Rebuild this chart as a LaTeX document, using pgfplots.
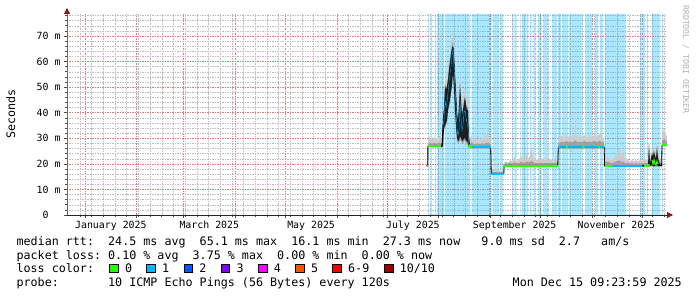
\documentclass[border=0pt]{standalone}
\usepackage{fontspec}
\setmonofont{DejaVu Sans Mono}
\usepackage{pgfplots}
\pgfplotsset{compat=1.18}
\usepackage{pgfplotstable}
\usetikzlibrary{arrows.meta}

\definecolor{smokelight}{RGB}{204,204,204}
\definecolor{smokemid}{RGB}{160,160,160}
\definecolor{smokedark}{RGB}{30,30,30}
\definecolor{lc0}{HTML}{26FF00}
\definecolor{lc1}{HTML}{00B8FF}
\definecolor{lc2}{HTML}{0059FF}
\definecolor{lc3}{HTML}{7E00FF}
\definecolor{lc4}{HTML}{FF00FF}
\definecolor{lc5}{HTML}{FF5500}
\definecolor{lc6}{HTML}{FF0000}
\definecolor{lc10}{HTML}{A00000}
\definecolor{majgrid}{RGB}{226,122,122}
\definecolor{mingrid}{RGB}{190,190,190}
\definecolor{arrowcol}{RGB}{140,20,20}

\newcommand\legfont{\ttfamily\fontsize{11.7}{13}\selectfont}
\newcommand\axfont{\ttfamily\fontsize{9.9}{11}\selectfont}
\newcommand\wmfont{\ttfamily\fontsize{8.2}{9}\selectfont}

% x = days since 1 Jan 2025; values in ms
\pgfplotstableread{
d lo dlo med dk md lt
204.70 18.9 19.2 19.3 19.6 20.0 20.5
205.45 18.9 19.2 19.3 19.6 20.0 20.5
205.50 26.4 26.7 26.8 27.1 28.0 29.5
206.76 26.4 26.7 26.8 27.1 28.2 30.5
207.96 26.4 26.7 26.8 27.2 28.0 29.5
209.16 26.4 26.7 26.8 27.1 28.3 30.5
210.36 26.4 26.7 26.8 27.1 28.0 29.8
211.56 26.4 26.7 26.8 27.2 28.2 30.2
212.75 26.4 26.7 26.8 27.1 28.5 31.0
213.35 26.4 26.7 26.8 27.1 28.0 29.5
213.95 26.3 26.5 27.0 28.0 29.0 31.0
214.55 26.5 27.0 35.0 38.2 39.0 40.0
215.15 33.0 34.0 37.0 41.6 42.6 44.0
215.75 34.0 35.0 45.0 50.6 51.6 53.0
216.35 35.0 36.0 42.0 49.0 50.0 52.0
216.95 36.0 37.0 44.0 50.4 51.4 54.0
217.55 40.0 41.0 48.0 53.0 54.0 56.0
218.15 42.0 43.0 52.0 57.0 58.0 60.0
218.74 44.0 45.0 55.0 60.0 61.0 63.0
219.34 47.0 48.0 58.0 63.0 64.0 66.0
219.94 50.0 51.0 62.0 65.5 67.0 70.0
220.54 55.0 56.0 64.5 66.0 68.3 72.5
221.14 48.0 49.0 58.0 63.0 64.4 68.0
221.74 40.0 41.0 50.0 55.0 56.4 60.0
222.34 34.0 35.0 43.0 48.0 49.4 53.0
222.94 29.0 30.0 34.0 40.0 41.8 46.0
223.54 28.0 29.0 31.0 37.0 38.4 42.0
224.13 28.0 29.0 33.0 43.0 44.4 48.0
224.73 30.0 31.0 45.0 51.0 52.0 55.0
225.33 29.0 30.0 38.0 45.0 46.4 50.0
225.93 28.0 29.0 33.0 39.0 40.4 44.0
226.53 28.0 29.0 35.0 41.0 42.4 46.0
227.13 29.0 30.0 40.0 44.0 45.0 48.0
227.73 29.0 30.0 41.0 46.0 47.0 50.0
228.33 28.0 29.0 38.0 43.0 44.0 47.0
228.93 28.0 29.0 36.0 41.0 42.4 46.0
229.53 27.0 28.0 34.0 41.0 42.2 44.0
230.13 26.3 26.5 27.5 30.0 32.0 35.0
230.73 26.1 26.4 26.5 26.9 28.2 30.0
231.92 26.1 26.4 26.5 26.9 28.5 31.3
233.12 26.1 26.4 26.5 26.9 27.8 29.0
234.33 26.1 26.4 26.5 26.9 28.0 30.0
235.52 26.1 26.4 26.5 26.9 28.0 29.5
236.72 26.1 26.4 26.5 26.9 27.8 29.0
237.92 26.1 26.4 26.5 26.9 28.2 30.0
238.52 26.1 26.4 26.5 26.9 28.0 31.0
239.12 26.1 26.4 26.5 26.9 27.8 29.5
240.32 26.1 26.4 26.5 26.9 28.5 32.0
240.92 26.1 26.4 26.5 26.9 28.0 29.5
241.52 26.1 26.4 26.5 26.9 29.0 34.5
242.12 26.1 26.4 26.5 26.9 28.0 30.0
243.19 26.1 26.4 26.5 26.9 28.0 29.5
243.43 15.9 16.1 16.2 16.4 16.9 17.4
246.31 15.9 16.1 16.2 16.4 17.0 17.8
248.71 15.9 16.1 16.2 16.4 16.8 17.3
251.00 15.9 16.1 16.2 16.4 16.8 17.3
251.20 18.9 19.2 19.3 19.6 20.0 20.5
252.30 18.9 19.2 19.3 19.6 20.3 21.0
253.50 18.9 19.2 19.3 19.6 20.2 20.5
254.70 18.9 19.2 19.3 19.6 20.5 21.5
255.90 18.9 19.2 19.3 19.6 20.3 21.0
257.10 18.9 19.2 19.3 19.6 20.6 22.0
257.70 18.9 19.2 19.3 19.6 20.8 22.8
258.30 18.9 19.2 19.3 19.6 20.3 21.0
259.50 18.9 19.2 19.3 19.6 20.4 21.5
260.70 18.9 19.2 19.3 19.6 20.6 22.0
261.29 18.9 19.2 19.3 19.6 21.0 24.0
261.89 18.9 19.2 19.3 19.6 20.5 22.0
262.49 18.9 19.2 19.3 19.6 20.8 23.5
263.09 18.9 19.2 19.3 19.6 20.4 21.5
264.29 18.9 19.2 19.3 19.6 20.8 23.0
264.89 18.9 19.2 19.3 19.6 21.2 25.4
265.49 18.9 19.2 19.3 19.6 20.6 22.0
266.69 18.9 19.2 19.3 19.6 20.8 23.0
267.89 18.9 19.2 19.3 19.6 21.5 26.5
268.49 18.9 19.2 19.3 19.6 20.7 23.0
269.09 18.9 19.2 19.3 19.6 20.5 22.0
270.28 18.9 19.2 19.3 19.6 20.4 21.5
271.48 18.9 19.2 19.3 19.6 20.5 22.0
272.68 18.9 19.2 19.3 19.6 20.4 21.5
273.88 18.9 19.2 19.3 19.6 20.5 22.0
275.08 18.9 19.2 19.3 19.6 20.3 21.5
276.28 18.9 19.2 19.3 19.6 20.6 22.5
277.48 18.9 19.2 19.3 19.6 20.4 21.5
278.67 18.9 19.2 19.3 19.6 20.5 22.0
279.87 18.9 19.2 19.3 19.6 20.4 21.5
281.07 18.9 19.2 19.3 19.6 20.5 22.0
282.27 18.9 19.2 19.3 19.6 20.3 21.5
283.35 18.9 19.2 19.3 19.6 20.3 21.5
283.60 26.0 26.3 26.4 26.8 28.0 28.5
284.67 26.0 26.3 26.4 26.8 28.6 30.5
285.87 26.0 26.3 26.4 26.8 28.8 31.0
287.06 26.0 26.3 26.4 26.8 28.5 30.0
288.26 26.0 26.3 26.4 26.8 29.0 31.5
289.46 26.0 26.3 26.4 26.8 28.7 30.5
290.66 26.0 26.3 26.4 26.8 28.8 31.0
291.86 26.0 26.3 26.4 26.8 28.5 30.0
293.06 26.0 26.3 26.4 26.8 29.0 31.5
293.66 26.0 26.3 26.4 26.8 29.2 36.0
294.08 26.0 26.3 26.4 26.8 29.5 39.0
294.56 26.0 26.3 26.4 26.8 28.8 31.0
295.45 26.0 26.3 26.4 26.8 28.6 30.5
296.65 26.0 26.3 26.4 26.8 28.8 31.0
297.85 26.0 26.3 26.4 26.8 28.5 30.0
299.05 26.0 26.3 26.4 26.8 29.0 31.5
300.25 26.0 26.3 26.4 26.8 28.7 30.5
301.45 26.0 26.3 26.4 26.8 28.5 30.0
302.65 26.0 26.3 26.4 26.8 28.8 31.0
303.84 26.0 26.3 26.4 26.8 28.6 30.5
305.04 26.0 26.3 26.4 26.8 29.0 31.5
305.64 26.0 26.3 26.4 26.8 29.2 32.5
306.24 26.0 26.3 26.4 26.8 28.7 30.5
307.44 26.0 26.3 26.4 26.8 28.8 31.0
308.64 26.0 26.3 26.4 26.8 29.0 32.0
309.84 26.0 26.3 26.4 26.8 28.6 30.5
311.16 26.0 26.3 26.4 26.8 28.5 30.0
311.40 18.8 19.1 19.2 19.5 20.5 22.0
312.24 18.8 19.1 19.2 19.5 21.0 23.0
313.43 18.8 19.1 19.2 19.5 20.8 22.5
314.63 18.8 19.1 19.2 19.5 20.6 22.0
315.83 18.8 19.1 19.2 19.5 20.4 21.5
317.03 18.8 19.1 19.2 19.5 20.7 22.5
318.23 18.8 19.1 19.2 19.5 21.0 23.5
319.43 18.8 19.1 19.2 19.5 21.2 24.0
320.33 18.8 19.1 19.2 19.5 21.5 26.7
321.22 18.8 19.1 19.2 19.5 20.8 23.0
322.42 18.8 19.1 19.2 19.5 21.2 25.5
323.02 18.8 19.1 19.2 19.5 20.6 22.5
324.22 18.8 19.1 19.2 19.5 20.5 22.0
325.42 18.8 19.1 19.2 19.5 20.3 21.5
326.62 18.8 19.1 19.2 19.5 20.2 21.0
327.82 18.8 19.1 19.2 19.5 20.3 21.5
329.02 18.8 19.1 19.2 19.5 20.2 21.0
330.21 18.8 19.1 19.2 19.5 20.3 21.5
331.41 18.8 19.1 19.2 19.5 20.2 21.0
332.61 18.8 19.1 19.2 19.5 20.4 21.5
333.81 18.8 19.1 19.2 19.5 20.2 21.0
335.01 18.8 19.1 19.2 19.5 20.5 22.0
336.21 18.8 19.1 19.2 19.5 20.4 21.5
337.41 18.8 19.1 19.2 19.5 20.5 22.0
338.01 18.9 19.2 19.5 27.5 27.8 28.0
338.61 18.9 19.1 19.3 20.0 21.0 22.0
339.20 19.0 19.4 20.5 22.0 23.0 24.0
339.80 19.0 19.5 21.5 24.0 25.0 26.0
340.40 18.9 19.0 20.0 23.0 24.0 25.0
341.00 18.9 19.0 21.5 25.0 25.5 26.5
341.60 19.0 19.2 20.0 23.0 24.0 25.0
342.20 18.9 19.2 19.5 22.0 23.0 24.0
342.80 19.0 19.5 21.0 26.7 27.0 27.5
343.40 18.9 19.2 20.0 22.0 23.0 24.5
344.00 18.9 19.1 19.5 21.0 22.0 23.0
344.60 18.9 19.1 19.4 19.8 20.8 22.0
345.56 18.9 19.1 19.4 19.8 20.8 22.0
345.80 26.8 27.1 27.2 27.6 29.0 30.5
346.40 26.8 27.1 27.2 27.6 29.5 32.0
347.00 26.8 27.1 27.2 27.6 30.0 34.5
347.60 26.8 27.1 27.2 27.6 29.8 33.0
348.20 26.8 27.1 27.2 27.6 29.0 31.0
348.80 26.8 27.1 27.2 27.6 29.0 31.0
}\smoke

\begin{document}
\begin{tikzpicture}[x=1pt,y=1pt]
\path[use as bounding box] (0,0) rectangle (697,297);
\begin{axis}[
  at={(67pt,82pt)}, anchor=south west,
  width=600pt, height=201pt, scale only axis,
  xmin=-10.79, xmax=348.79, ymin=0, ymax=78.6,
  axis lines=left,
  axis line style={line width=0.8pt},
  x axis line style={draw=black!85, -{Triangle[length=6pt,width=6pt,color=arrowcol]}, shorten >=-6pt},
  y axis line style={draw=black!60, -{Triangle[length=6pt,width=6pt,color=arrowcol]}, shorten >=-6pt},
  xtick={0,31,59,90,120,151,181,212,243,273,304,334},
  xticklabels={},
  minor xtick={-3,4,...,347},
  ytick={0,10,...,70},
  yticklabels={0\hphantom{\ m},10 m,20 m,30 m,40 m,50 m,60 m,70 m},
  minor ytick={2,4,...,78},
  grid=both,
  major grid style={color=majgrid, line width=0.6pt, dash pattern=on 1.5pt off 1pt},
  minor grid style={color=mingrid, line width=0.45pt, dash pattern=on 1.5pt off 1pt},
  tick align=outside, major tick length=3pt, minor tick length=2pt,
  tick style={color=black!70, line width=0.6pt, solid},
  tick label style={font=\axfont},
  xticklabel style={yshift=-2.5pt},
  extra x ticks={15.5,74.5,135.5,196.5,257.5,318.5},
  extra x tick labels={January 2025,March 2025,May 2025,July 2025,September 2025,November 2025},
  extra x tick style={grid=none, major tick length=0pt},
]
% loss background (1/10 loss periods), translucent like the original
\addplot[const plot, fill=lc1, fill opacity=0.33, draw=none] coordinates {
(205.7,78.6)(206.3,0.25)(207.4,78.6)(208.0,0.25)(209.8,78.6)(210.4,0.25)(211.1,78.6)(212.0,0.25)
(212.2,78.6)(215.1,0.25)(215.7,78.6)(230.7,0.25)(231.7,78.6)(243.7,0.25)(244.5,78.6)(248.3,0.25)
(249.1,78.6)(250.7,0.25)(256.1,78.6)(256.7,0.25)(257.3,78.6)(258.7,0.25)(260.7,78.6)(261.1,0.25)
(261.7,78.6)(264.3,0.25)(264.7,78.6)(265.7,0.25)(266.7,78.6)(267.7,0.25)(268.7,78.6)(269.7,0.25)
(271.5,78.6)(273.7,0.25)(274.5,78.6)(276.9,0.25)(277.5,78.6)(278.1,0.25)(279.9,78.6)(282.9,0.25)
(283.5,78.6)(285.3,0.25)(285.9,78.6)(289.5,0.25)(290.1,78.6)(297.9,0.25)(299.7,78.6)(303.9,0.25)
(305.6,78.6)(307.4,0.25)(308.6,78.6)(310.4,0.25)(311.6,78.6)(324.2,0.25)(332.6,78.6)(333.8,0.25)
(334.4,78.6)(335.6,0.25)(336.8,78.6)(337.4,0.25)(339.8,78.6)(344.6,0.25)(345.8,78.6)(346.4,0.25)
} \closedcycle;
% smoke: stacked bands lo -> md -> lt, then back down to dlo -> dk
\addplot[draw=none, stack plots=y] table[x=d,y=lo]{\smoke};
\addplot[draw=none, fill=smokemid, stack plots=y] table[x=d,y expr=\thisrow{md}-\thisrow{lo}]{\smoke} \closedcycle;
\addplot[draw=none, fill=smokelight, stack plots=y] table[x=d,y expr=\thisrow{lt}-\thisrow{md}]{\smoke} \closedcycle;
\addplot[draw=none, stack plots=y] table[x=d,y expr=\thisrow{dlo}-\thisrow{lt}]{\smoke};
\addplot[draw=none, fill=smokedark, stack plots=y] table[x=d,y expr=\thisrow{dk}-\thisrow{dlo}]{\smoke} \closedcycle;
% median
\addplot[black, line width=0.8pt] table[x=d,y=med]{\smoke};
\addplot[lc1, line width=0.45pt, restrict x to domain=214.4:230.2] table[x=d,y=med]{\smoke};
\addplot[lc1, line width=2pt, restrict x to domain=231.9:243.2] table[x=d,y=med]{\smoke};
\addplot[lc1, line width=2pt, restrict x to domain=243.4:251.05] table[x=d,y=med]{\smoke};
\addplot[lc1, line width=2pt, restrict x to domain=283.5:311.2] table[x=d,y=med]{\smoke};
\addplot[lc1, line width=2pt, restrict x to domain=315.8:335.0] table[x=d,y=med]{\smoke};
\addplot[lc0, line width=2pt, restrict x to domain=204.6:205.46] table[x=d,y=med]{\smoke};
\addplot[lc0, line width=2pt, restrict x to domain=205.48:213.9] table[x=d,y=med]{\smoke};
\addplot[lc0, line width=2pt, restrict x to domain=230.0:231.95] table[x=d,y=med]{\smoke};
\addplot[lc0, line width=2pt, restrict x to domain=251.1:283.4] table[x=d,y=med]{\smoke};
\addplot[lc0, line width=2pt, restrict x to domain=288.2:289.5] table[x=d,y=med]{\smoke};
\addplot[lc0, line width=2pt, restrict x to domain=297.8:299.1] table[x=d,y=med]{\smoke};
\addplot[lc0, line width=2pt, restrict x to domain=307.4:308.7] table[x=d,y=med]{\smoke};
\addplot[lc0, line width=2pt, restrict x to domain=311.3:315.9] table[x=d,y=med]{\smoke};
\addplot[lc0, line width=2pt, restrict x to domain=335.0:338.7] table[x=d,y=med]{\smoke};
\addplot[lc0, line width=1.2pt, restrict x to domain=339.7:343.5] table[x=d,y=med]{\smoke};
\addplot[lc0, line width=2pt, restrict x to domain=345.7:349] table[x=d,y=med]{\smoke};
\end{axis}
\node[rotate=90, inner sep=0pt, font=\legfont] at (10.8,183) {Seconds};
% legend text
\begin{scope}[every node/.style={inner sep=0pt, font=\legfont}]
\node[anchor=base west] at (16.4,51) {median~rtt:~~24.5~ms~avg~~65.1~ms~max~~16.1~ms~min~~27.3~ms~now~~~9.0~ms~sd~~2.7~~~am/s};
\node[anchor=base west] at (16.4,37.5) {packet~loss:~0.10~\%~avg~~3.75~\%~max~~0.00~\%~min~~0.00~\%~now};
\node[anchor=base west] at (16.4,24) {loss~color:};
\node[anchor=base west] at (16.4,10.5) {probe:~~~~~~~10~ICMP~Echo~Pings~(56~Bytes)~every~120s};
\node[anchor=base east] at (682,10.5) {Mon~Dec~15~09:23:59~2025};
\foreach \c/\t/\x in {lc0/0/109.5, lc1/1/146.7, lc2/2/183.9, lc3/3/221.1, lc4/4/258.3, lc5/5/295.5, lc6/6-9/332.7, lc10/10\slash 10/384.3}{
  \draw[fill=\c, draw=black, line width=0.6pt] (\x,24.3) rectangle ++(8.5,8.5);
  \node[anchor=base west] at (\x+15.3,24) {\t};
}
\end{scope}
\node[rotate=-90, anchor=base west, inner sep=0pt, font=\wmfont, text=black!30] at (683,292) {RRDTOOL / TOBI OETIKER};
\end{tikzpicture}
\end{document}
